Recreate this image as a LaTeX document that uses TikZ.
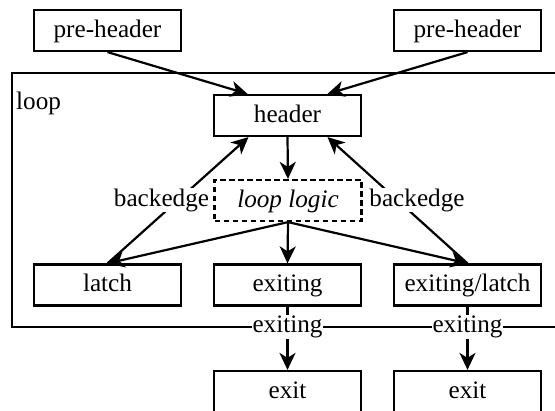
\documentclass[tikz,border=0pt]{standalone}
\usepackage{fontspec}
\setmainfont{Liberation Serif}
\usetikzlibrary{arrows.meta,calc}

\tikzset{
  block/.style={draw, line width=2.2pt, fill=white, minimum width=147pt,
    minimum height=41pt, inner sep=0pt, text height=19pt, text depth=5pt,
    font=\fontsize{25.2}{30}\selectfont},
  logicbox/.style={block, dashed, dash pattern=on 5.5pt off 3.5pt},
  lbl/.style={fill=white, inner sep=1pt, font=\fontsize{25.2}{30}\selectfont},
  arr/.style={line width=2.2pt, -{Stealth[length=17pt,width=16pt,inset=5pt]}},
  frame/.style={draw, line width=2.2pt},
}

\begin{document}
\begin{tikzpicture}[x=1pt, y=-1pt]
  \useasboundingbox (0,0) rectangle (555,411);
  \clip (0,0) rectangle (555,411);

  % loop region
  \draw[frame] (12,73) rectangle (620,327);
  \node[lbl, fill=none, inner sep=0pt, anchor=base west] (looplbl) at (16,110) {loop};

  % blocks
  \node[block] (pre1)    at (107.5,30.5)  {pre-header};
  \node[block] (pre2)    at (467.5,30.5)  {pre-header};
  \node[block] (header)  at (287.5,115.5) {header};
  \node[logicbox] (logic) at (288,200.5)  {\itshape loop logic};
  \node[block] (latch)   at (107.5,285)   {latch};
  \node[block] (exiting) at (287.5,285)   {exiting};
  \node[block] (exlatch) at (467.5,285)   {exiting/latch};
  \node[block] (exit1)   at (287.5,391.5) {exit};
  \node[block] (exit2)   at (467.5,391.5) {exit};

  % entry edges
  \draw[arr] (pre1.south) -- ($(header.north)+(-40,0)$);
  \draw[arr] (pre2.south) -- ($(header.north)+(40,0)$);

  % back edges
  \draw[arr] (latch.north) -- ($(header.south)+(-39,0)$);
  \draw[arr] (exlatch.north) -- ($(header.south)+(40,0)$);
  \node[lbl] (be1) at (161.5,200) {backedge};
  \node[lbl] (be2) at (417,200) {backedge};

  % loop body
  \draw[arr] (header.south) -- (logic.north);
  \draw[arr] (logic.south) -- (latch.north);
  \draw[arr] (logic.south) -- (exlatch.north);
  \draw[arr] (logic.south) -- (exiting.north);

  % exit edges
  \draw[arr] (exiting.south) -- (exit1.north);
  \draw[arr] (exlatch.south) -- (exit2.north);
  \node[lbl] (ex1) at (287.5,327) {exiting};
  \node[lbl] (ex2) at (467.5,327) {exiting};
\end{tikzpicture}
\end{document}
